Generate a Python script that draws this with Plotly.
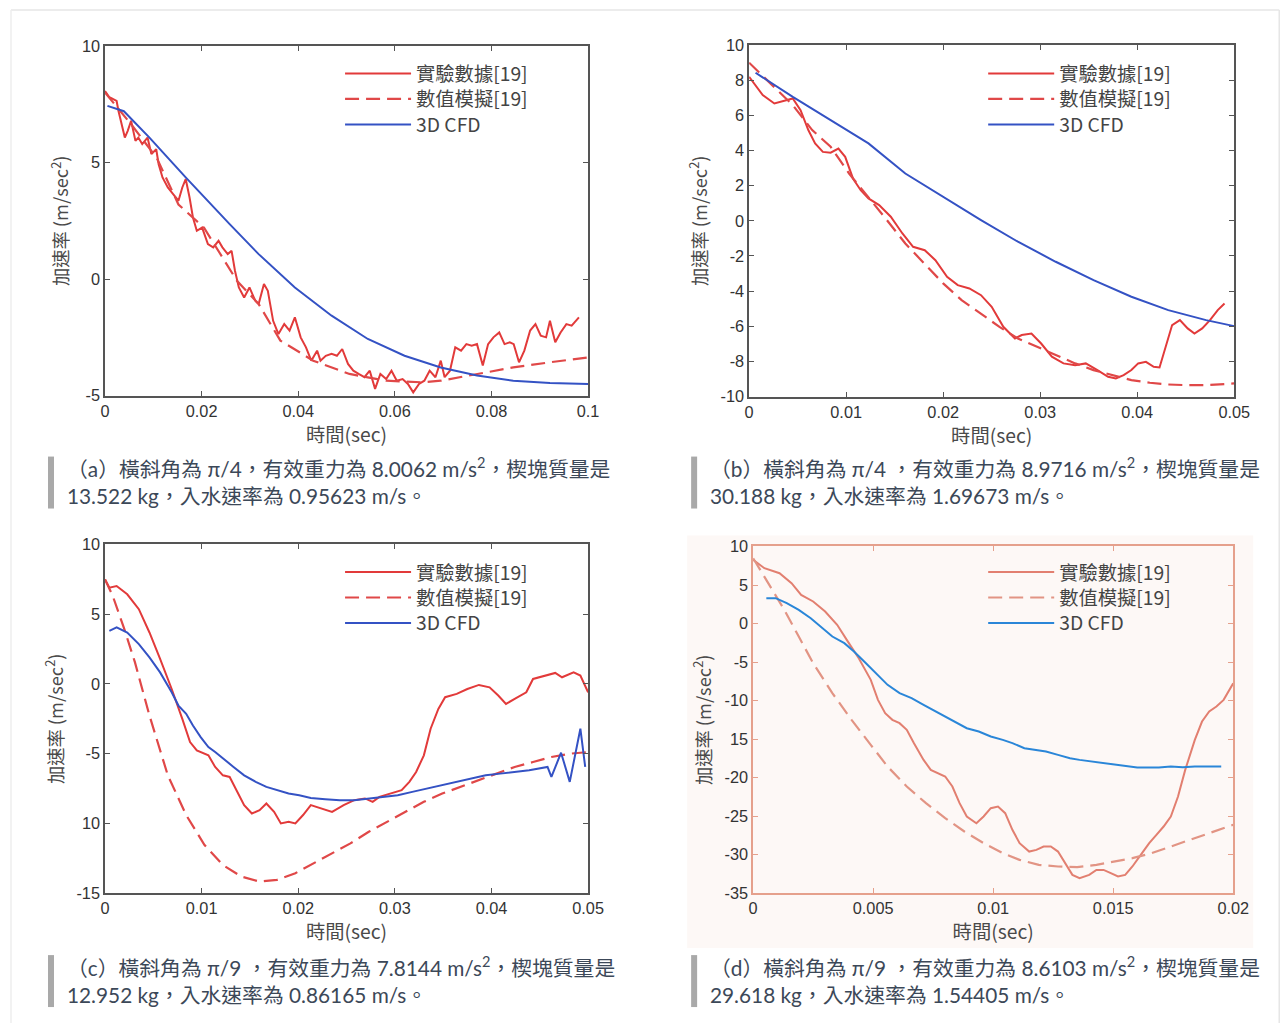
import plotly.graph_objects as go

W, H = 1287, 1032

# ---------------- data ----------------
# Panel (a)
a_exp_t = [0, 0.0009, 0.0024, 0.0028, 0.0041, 0.0047, 0.0054, 0.0063, 0.0069, 0.0077, 0.0088, 0.0096, 0.0106, 0.0111,
           0.0119, 0.013, 0.0141, 0.0152, 0.016, 0.0167, 0.0175, 0.0182, 0.019, 0.0201, 0.0213, 0.0224, 0.0235, 0.0243,
           0.0254, 0.0262, 0.0269, 0.0277, 0.0288, 0.0299, 0.0311, 0.0318, 0.0329, 0.0337, 0.0348, 0.0359, 0.0371,
           0.0382, 0.0393, 0.0405, 0.0416, 0.0427, 0.0439, 0.0446, 0.0457, 0.0469, 0.048, 0.0491, 0.0503, 0.0514,
           0.0525, 0.0537, 0.0548, 0.0559, 0.057, 0.0582, 0.0593, 0.0604, 0.0616, 0.0627, 0.0638, 0.065, 0.0661,
           0.0672, 0.0684, 0.0695, 0.0703, 0.0714, 0.0725, 0.0737, 0.0748, 0.0759, 0.077, 0.0782, 0.0793, 0.0804,
           0.0816, 0.0827, 0.0838, 0.0846, 0.0857, 0.0868, 0.088, 0.0891, 0.0902, 0.0913, 0.0921, 0.0932, 0.0943,
           0.0955, 0.0966, 0.0981]
a_exp_y = [8.07, 7.8, 7.64, 7.2, 6.07, 6.36, 6.79, 5.93, 6.07, 5.79, 6.07, 5.36, 5.57, 4.93,
           4.36, 3.93, 3.64, 3.36, 3.93, 4.29, 3.5, 2.64, 2.07, 2.21, 1.5, 1.36, 1.64, 1.36,
           1.07, 1.21, 0.36, -0.36, -0.79, -0.36, -0.93, -1.07, -0.21, -0.5, -1.79, -2.36, -1.93,
           -2.21, -1.64, -2.5, -2.93, -3.5, -3.07, -3.5, -3.29, -3.21, -3.29, -3.0, -3.64, -3.93,
           -4.07, -4.21, -3.93, -4.71, -4.07, -4.29, -3.93, -4.36, -4.29, -4.5, -4.86, -4.5, -4.36,
           -3.93, -4.21, -3.5, -4.21, -3.93, -2.93, -3.07, -2.79, -2.86, -2.79, -3.71, -2.79, -2.5,
           -2.29, -2.79, -2.71, -2.79, -3.57, -3.07, -2.21, -1.93, -2.43, -2.5, -1.79, -2.71, -2.29,
           -1.93, -2.0, -1.64]
a_num_t = [0, 0.0054, 0.0107, 0.0152, 0.0205, 0.0273, 0.0318, 0.0363, 0.0431, 0.0506, 0.0582, 0.0657, 0.0695,
           0.077, 0.0845, 0.0921, 0.1]
a_num_y = [8.0, 6.64, 5.2, 3.2, 2.2, -0.07, -1.07, -2.64, -3.5, -4.07, -4.36, -4.43, -4.36,
           -4.07, -3.79, -3.57, -3.36]
a_cfd_t = [0.0005, 0.0039, 0.0092, 0.0167, 0.0258, 0.0318, 0.0393, 0.0469, 0.0544, 0.062, 0.0695, 0.077, 0.0845,
           0.0921, 0.1]
a_cfd_y = [7.43, 7.2, 6.07, 4.36, 2.36, 1.07, -0.36, -1.57, -2.57, -3.29, -3.79, -4.14, -4.36, -4.46, -4.5]

# Panel (b)
b_exp_t = [0, 0.0014, 0.0026, 0.0038, 0.0045, 0.0053, 0.0061, 0.0068, 0.0076, 0.0084, 0.0092, 0.0099, 0.0107,
           0.0115, 0.0123, 0.0134, 0.0146, 0.0158, 0.0169, 0.0181, 0.0192, 0.0204, 0.0215, 0.0227, 0.0239, 0.025,
           0.0262, 0.0274, 0.0281, 0.0291, 0.0301, 0.0312, 0.0324, 0.0336, 0.0347, 0.0359, 0.037, 0.0378, 0.0386,
           0.0394, 0.0401, 0.0409, 0.0417, 0.0423, 0.0428, 0.0436, 0.0444, 0.0452, 0.0459, 0.0467, 0.0475, 0.0483,
           0.049]
b_exp_y = [8.19, 7.15, 6.67, 6.86, 6.96, 6.29, 5.16, 4.4, 3.92, 3.87, 4.11, 3.64, 2.41,
           1.74, 1.27, 0.89, 0.23, -0.72, -1.48, -1.67, -2.24, -3.18, -3.66, -3.85, -4.23, -4.89,
           -6.03, -6.69, -6.5, -6.41, -6.98, -7.73, -8.11, -8.21, -8.11, -8.49, -8.87, -8.97, -8.78,
           -8.49, -8.11, -8.02, -8.3, -8.34, -7.36, -5.93, -5.65, -6.12, -6.41, -6.12, -5.65, -5.08,
           -4.7]
b_num_t = [0, 0.0026, 0.0045, 0.0065, 0.0084, 0.0103, 0.0123, 0.0142, 0.0161, 0.0181, 0.02, 0.0219, 0.0239,
           0.0258, 0.0277, 0.0297, 0.0316, 0.0336, 0.0355, 0.0374, 0.0394, 0.0413, 0.0432, 0.0452, 0.0471, 0.05]
b_num_y = [8.99, 7.62, 6.58, 5.16, 4.21, 2.69, 1.36, 0.04, -1.29, -2.43, -3.56, -4.51, -5.27,
           -6.03, -6.69, -7.17, -7.64, -8.11, -8.49, -8.78, -9.06, -9.21, -9.31, -9.35, -9.35, -9.25]
b_cfd_t = [0.00066, 0.0045, 0.0084, 0.0123, 0.0161, 0.02, 0.0239, 0.0277, 0.0316, 0.0355, 0.0394, 0.0432, 0.0471,
           0.05]
b_cfd_y = [8.42, 7.05, 5.73, 4.4, 2.69, 1.36, 0.04, -1.19, -2.33, -3.37, -4.32, -5.08, -5.65, -5.99]

# Panel (c)
c_exp_t = [0, 0.00045, 0.0012, 0.0023, 0.0035, 0.0046, 0.0057, 0.0069, 0.008, 0.0088, 0.0095, 0.0107, 0.0114,
           0.0122, 0.0129, 0.0137, 0.0144, 0.0152, 0.016, 0.0167, 0.0175, 0.0182, 0.019, 0.0197, 0.0205, 0.0213,
           0.0224, 0.0235, 0.0247, 0.0258, 0.0269, 0.0277, 0.0284, 0.0296, 0.0307, 0.0315, 0.0322, 0.033, 0.0337,
           0.0345, 0.0352, 0.0364, 0.0375, 0.0387, 0.0398, 0.0407, 0.0415, 0.0424, 0.0436, 0.0443, 0.0455, 0.0466,
           0.0473, 0.0485, 0.0492, 0.05]
c_exp_y = [7.5, 6.9, 7.02, 6.43, 5.36, 3.69, 1.79, -0.36, -2.5, -4.17, -4.76, -5.12, -5.95,
           -6.55, -6.67, -7.74, -8.69, -9.29, -9.05, -8.57, -9.17, -10.0, -9.88, -10.0, -9.4, -8.69,
           -8.93, -9.17, -8.69, -8.33, -8.21, -8.45, -8.1, -7.86, -7.62, -7.02, -6.31, -5.12, -3.21,
           -1.79, -0.95, -0.71, -0.36, -0.07, -0.24, -0.83, -1.43, -1.07, -0.6, 0.36, 0.6, 0.79,
           0.48, 0.83, 0.6, -0.6]
c_num_t = [0, 0.0008, 0.002, 0.0031, 0.0046, 0.0065, 0.0084, 0.0103, 0.0122, 0.0141, 0.016, 0.0178, 0.0197,
           0.0216, 0.0235, 0.0254, 0.0273, 0.0292, 0.0311, 0.033, 0.0349, 0.0368, 0.0387, 0.0405, 0.0424, 0.0443,
           0.0462, 0.0481, 0.05]
c_num_y = [7.5, 6.31, 3.93, 1.55, -2.26, -6.55, -9.4, -11.55, -12.98, -13.81, -14.17, -14.05, -13.57,
           -12.86, -12.14, -11.43, -10.6, -9.88, -9.17, -8.45, -7.86, -7.38, -6.9, -6.43, -5.95, -5.6,
           -5.24, -5.0, -4.88]
c_cfd_t = [0.00045, 0.0012, 0.0023, 0.0035, 0.0046, 0.0057, 0.0069, 0.0076, 0.0084, 0.0091, 0.0099, 0.0107,
           0.0114, 0.0122, 0.0133, 0.0144, 0.0156, 0.0167, 0.0178, 0.019, 0.0201, 0.0213, 0.0228, 0.0243, 0.0258,
           0.0273, 0.0288, 0.0303, 0.0318, 0.0334, 0.0349, 0.0364, 0.0379, 0.0394, 0.0409, 0.0424, 0.0439, 0.0458,
           0.0462, 0.0472, 0.0481, 0.0492, 0.0497]
c_cfd_y = [3.81, 4.05, 3.69, 2.86, 1.9, 0.83, -0.6, -1.55, -2.14, -2.98, -3.81, -4.52,
           -4.88, -5.36, -5.95, -6.55, -7.02, -7.38, -7.62, -7.86, -7.98, -8.17, -8.26, -8.33, -8.33,
           -8.21, -8.1, -7.98, -7.74, -7.5, -7.26, -7.02, -6.79, -6.55, -6.43, -6.31, -6.19, -5.95,
           -6.67, -4.93, -7.02, -3.21, -5.95]

# Panel (d)
d_exp_t = [0, 0.00047, 0.0011, 0.0016, 0.002, 0.0025, 0.003, 0.0035, 0.0039, 0.0044, 0.0049, 0.0052, 0.0055,
           0.0058, 0.0061, 0.0064, 0.0067, 0.0071, 0.0074, 0.0077, 0.008, 0.0083, 0.0086, 0.0089, 0.0093, 0.0096,
           0.0099, 0.0102, 0.0105, 0.0108, 0.0111, 0.0115, 0.0118, 0.0121, 0.0124, 0.0127, 0.013, 0.0133, 0.0136,
           0.014, 0.0143, 0.0146, 0.0149, 0.0152, 0.0155, 0.0158, 0.0162, 0.0165, 0.0168, 0.0171, 0.0174, 0.0177,
           0.018, 0.0184, 0.0187, 0.019, 0.0193, 0.0196, 0.02]
d_exp_y = [8.26, 7.18, 6.53, 5.24, 3.72, 2.86, 1.56, -0.17, -2.12, -4.5, -7.31, -9.91, -11.64,
           -12.5, -12.94, -13.8, -15.53, -17.7, -19.0, -19.43, -19.86, -21.16, -23.32, -25.05, -25.92, -25.05,
           -23.97, -23.76, -24.62, -26.78, -28.51, -29.6, -29.38, -28.95, -28.95, -29.6, -31.11, -32.63, -33.06,
           -32.63, -31.98, -31.98, -32.41, -32.84, -32.63, -31.54, -29.81, -28.51, -27.43, -26.35, -25.05, -22.46,
           -19.0, -15.1, -12.72, -11.42, -10.77, -9.91, -7.75]
d_num_t = [0, 0.00063, 0.0013, 0.0019, 0.0025, 0.0033, 0.0041, 0.0049, 0.0056, 0.0064, 0.0072, 0.008, 0.0088,
           0.0096, 0.0104, 0.0111, 0.0119, 0.0127, 0.0135, 0.0143, 0.0151, 0.0158, 0.0166, 0.0174, 0.0182, 0.019,
           0.02]
d_num_y = [8.48, 5.24, 1.77, -1.69, -5.15, -9.04, -12.5, -15.75, -18.56, -21.16, -23.32, -25.27, -27.0,
           -28.51, -29.81, -30.68, -31.33, -31.54, -31.63, -31.33, -30.9, -30.46, -29.81, -28.95, -28.08, -27.22,
           -26.13]
d_cfd_t = [0.00055, 0.00094, 0.0014, 0.0019, 0.0024, 0.0028, 0.0033, 0.0038, 0.0042, 0.0047, 0.0052, 0.0056,
           0.0061, 0.0066, 0.0071, 0.0075, 0.008, 0.0085, 0.0089, 0.0094, 0.0099, 0.0104, 0.0108, 0.0113, 0.0118,
           0.0122, 0.0127, 0.0132, 0.0136, 0.0141, 0.0146, 0.0151, 0.0155, 0.016, 0.0165, 0.0169, 0.0174, 0.0179,
           0.0184, 0.0188, 0.0195]
d_cfd_y = [3.29, 3.29, 2.64, 1.77, 0.69, -0.39, -1.69, -2.55, -3.63, -5.15, -6.66, -7.96,
           -9.04, -9.69, -10.56, -11.21, -12.07, -12.94, -13.59, -14.02, -14.67, -15.1, -15.53, -16.18, -16.4,
           -16.62, -17.05, -17.48, -17.7, -17.92, -18.13, -18.35, -18.56, -18.69, -18.69, -18.69, -18.56, -18.65,
           -18.56, -18.56, -18.56]

series_names = ["實驗數據[19]", "數值模擬[19]", "3D CFD"]

a_xticks = [0, 0.02, 0.04, 0.06, 0.08, 0.1]
a_xticktext = ["0", "0.02", "0.04", "0.06", "0.08", "0.1"]
a_yticks = [10, 5, 0, -5]
a_yticktext = ["10", "5", "0", "-5"]
b_xticks = [0, 0.01, 0.02, 0.03, 0.04, 0.05]
b_xticktext = ["0", "0.01", "0.02", "0.03", "0.04", "0.05"]
b_yticks = [10, 8, 6, 4, 2, 0, -2, -4, -6, -8, -10]
b_yticktext = ["10", "8", "6", "4", "2", "0", "-2", "-4", "-6", "-8", "-10"]
c_xticks = [0, 0.01, 0.02, 0.03, 0.04, 0.05]
c_xticktext = ["0", "0.01", "0.02", "0.03", "0.04", "0.05"]
c_yticks = [10, 5, 0, -5, -10, -15]
c_yticktext = ["10", "5", "0", "-5", "10", "-15"]
d_xticks = [0, 0.005, 0.01, 0.015, 0.02]
d_xticktext = ["0", "0.005", "0.01", "0.015", "0.02"]
d_yticks = [10, 5, 0, -5, -10, -15, -20, -25, -30, -35]
d_yticktext = ["10", "5", "0", "-5", "-10", "15", "-20", "-25", "-30", "-35"]

captions = [
    ["（a）橫斜角為 π/4，有效重力為 8.0062 m/s<sup>2</sup>，楔塊質量是", "13.522 kg，入水速率為 0.95623 m/s。"],
    ["（b）橫斜角為 π/4 ，有效重力為 8.9716 m/s<sup>2</sup>，楔塊質量是", "30.188 kg，入水速率為 1.69673 m/s。"],
    ["（c）橫斜角為 π/9 ，有效重力為 7.8144 m/s<sup>2</sup>，楔塊質量是", "12.952 kg，入水速率為 0.86165 m/s。"],
    ["（d）橫斜角為 π/9 ，有效重力為 8.6103 m/s<sup>2</sup>，楔塊質量是", "29.618 kg，入水速率為 1.54405 m/s。"],
]

# ---------------- layout helpers ----------------
# the captured picture is offset/scaled slightly relative to the page; compensate
OX, OY, S = 4.0, 8.0, 0.9835


def px_x(x):
    return ((x - OX) / S) / W


def px_y(y):
    return 1 - ((y - OY) / S) / H


def fs(v):
    return round(v / S, 1)


CJK = "Noto Sans CJK TC"
panels = [
    dict(key="a", box=(104, 587, 45, 395), xr=[0, 0.1], yr=[-5, 10],
         data=[(a_exp_t, a_exp_y), (a_num_t, a_num_y), (a_cfd_t, a_cfd_y)],
         xt=(a_xticks, a_xticktext), yt=(a_yticks, a_yticktext),
         colors=["#e23a3a", "#e04848", "#3452c4"], frame="#555555", leg=(339, 73),
         cap=(47, 467)),
    dict(key="b", box=(748, 1233, 44, 396), xr=[0, 0.05], yr=[-10, 10],
         data=[(b_exp_t, b_exp_y), (b_num_t, b_num_y), (b_cfd_t, b_cfd_y)],
         xt=(b_xticks, b_xticktext), yt=(b_yticks, b_yticktext),
         colors=["#e23a3a", "#e04848", "#3452c4"], frame="#555555", leg=(982, 73),
         cap=(690, 467)),
    dict(key="c", box=(104, 587, 544, 893), xr=[0, 0.05], yr=[-15, 10],
         data=[(c_exp_t, c_exp_y), (c_num_t, c_num_y), (c_cfd_t, c_cfd_y)],
         xt=(c_xticks, c_xticktext), yt=(c_yticks, c_yticktext),
         colors=["#e23a3a", "#e04848", "#3452c4"], frame="#555555", leg=(339, 572),
         cap=(47, 966)),
    dict(key="d", box=(752, 1232, 546, 893), xr=[0, 0.02], yr=[-35, 10],
         data=[(d_exp_t, d_exp_y), (d_num_t, d_num_y), (d_cfd_t, d_cfd_y)],
         xt=(d_xticks, d_xticktext), yt=(d_yticks, d_yticktext),
         colors=["#e27f70", "#e29484", "#2a86d8"], frame="#e5a08c", leg=(982, 572),
         cap=(690, 966)),
]

fig = go.Figure()
layout = dict(width=W, height=H, margin=dict(l=0, r=0, t=0, b=0),
              paper_bgcolor="white", plot_bgcolor="rgba(0,0,0,0)", showlegend=True)
shapes = []
annotations = []

# faint page card border (top and side edges)
shapes.append(dict(type="line", xref="paper", yref="paper", x0=px_x(10), x1=px_x(1278), y0=px_y(9), y1=px_y(9),
                   line=dict(color="#e6e6e6", width=1.5), layer="below"))
shapes.append(dict(type="line", xref="paper", yref="paper", x0=px_x(1278), x1=px_x(1278), y0=px_y(9), y1=0,
                   line=dict(color="#e6e6e6", width=1.5), layer="below"))
shapes.append(dict(type="line", xref="paper", yref="paper", x0=px_x(10), x1=px_x(10), y0=px_y(9), y1=0,
                   line=dict(color="#eeeeee", width=1.5), layer="below"))
# faded scan background of panel (d)
shapes.append(dict(type="rect", xref="paper", yref="paper", x0=px_x(686), x1=px_x(1252), y0=px_y(948), y1=px_y(535),
                   line=dict(width=0), fillcolor="#fdf8f6", layer="below"))

row_gap = 25.5
leg_count = 0
for i, p in enumerate(panels):
    n = "" if i == 0 else str(i + 1)
    xa, ya = "xaxis" + n, "yaxis" + n
    xref, yref = "x" + n, "y" + n
    x0, x1, y0, y1 = p["box"]
    common = dict(showline=True, mirror="ticks", linecolor=p["frame"], linewidth=1.5, ticks="inside",
                  ticklen=5, tickcolor=p["frame"], tickwidth=1.2, showgrid=False, zeroline=False,
                  tickfont=dict(family="Liberation Sans", size=fs(16), color="#333333"))
    layout[xa] = dict(common, domain=[px_x(x0), px_x(x1)], range=p["xr"], anchor=yref,
                      tickmode="array", tickvals=p["xt"][0], ticktext=p["xt"][1],
                      title=dict(text="時間(sec)", font=dict(family=CJK, size=fs(19), color="#4a4a4a"), standoff=4))
    layout[ya] = dict(common, domain=[px_y(y1), px_y(y0)], range=p["yr"], anchor=xref,
                      tickmode="array", tickvals=p["yt"][0], ticktext=p["yt"][1],
                      title=dict(text="加速率 (m/sec<sup>2</sup>)", font=dict(family=CJK, size=fs(18), color="#4a4a4a"),
                                 standoff=8))
    dashes = [None, "14px,7px", None]
    lx, ly = p["leg"]
    for j, (t, y) in enumerate(p["data"]):
        leg_count += 1
        legname = "legend" if leg_count == 1 else "legend" + str(leg_count)
        line = dict(color=p["colors"][j], width=2 if j != 1 else 2.2)
        if dashes[j]:
            line["dash"] = dashes[j]
        fig.add_trace(go.Scatter(x=t, y=y, mode="lines", name=series_names[j], line=line,
                                 xaxis=xref, yaxis=yref, legend=legname, hoverinfo="skip"))
        layout[legname] = dict(x=px_x(lx), y=px_y(ly + row_gap * j), xanchor="left", yanchor="middle",
                               bgcolor="rgba(0,0,0,0)", borderwidth=0, itemwidth=66,
                               font=dict(family=CJK, size=fs(19), color="#444444"))
    # caption
    cx, cy = p["cap"]
    shapes.append(dict(type="rect", xref="paper", yref="paper", x0=px_x(cx), x1=px_x(cx + 6),
                       y0=px_y(cy + 41), y1=px_y(cy - 11), line=dict(width=0), fillcolor="#a9a9a9"))
    for k, txt in enumerate(captions[i]):
        annotations.append(dict(xref="paper", yref="paper", x=px_x(cx + 17), y=px_y(cy + 28 * k),
                                xanchor="left", yanchor="middle", showarrow=False, text=txt,
                                font=dict(family="Lato, " + CJK, size=fs(20.5), color="#3c4858")))

layout["shapes"] = shapes
layout["annotations"] = annotations
fig.update_layout(**layout)
fig.write_html(
    "out.html",
    config={"displayModeBar": False},
    post_script="document.body.style.margin='0';document.body.style.overflow='hidden';",
)
